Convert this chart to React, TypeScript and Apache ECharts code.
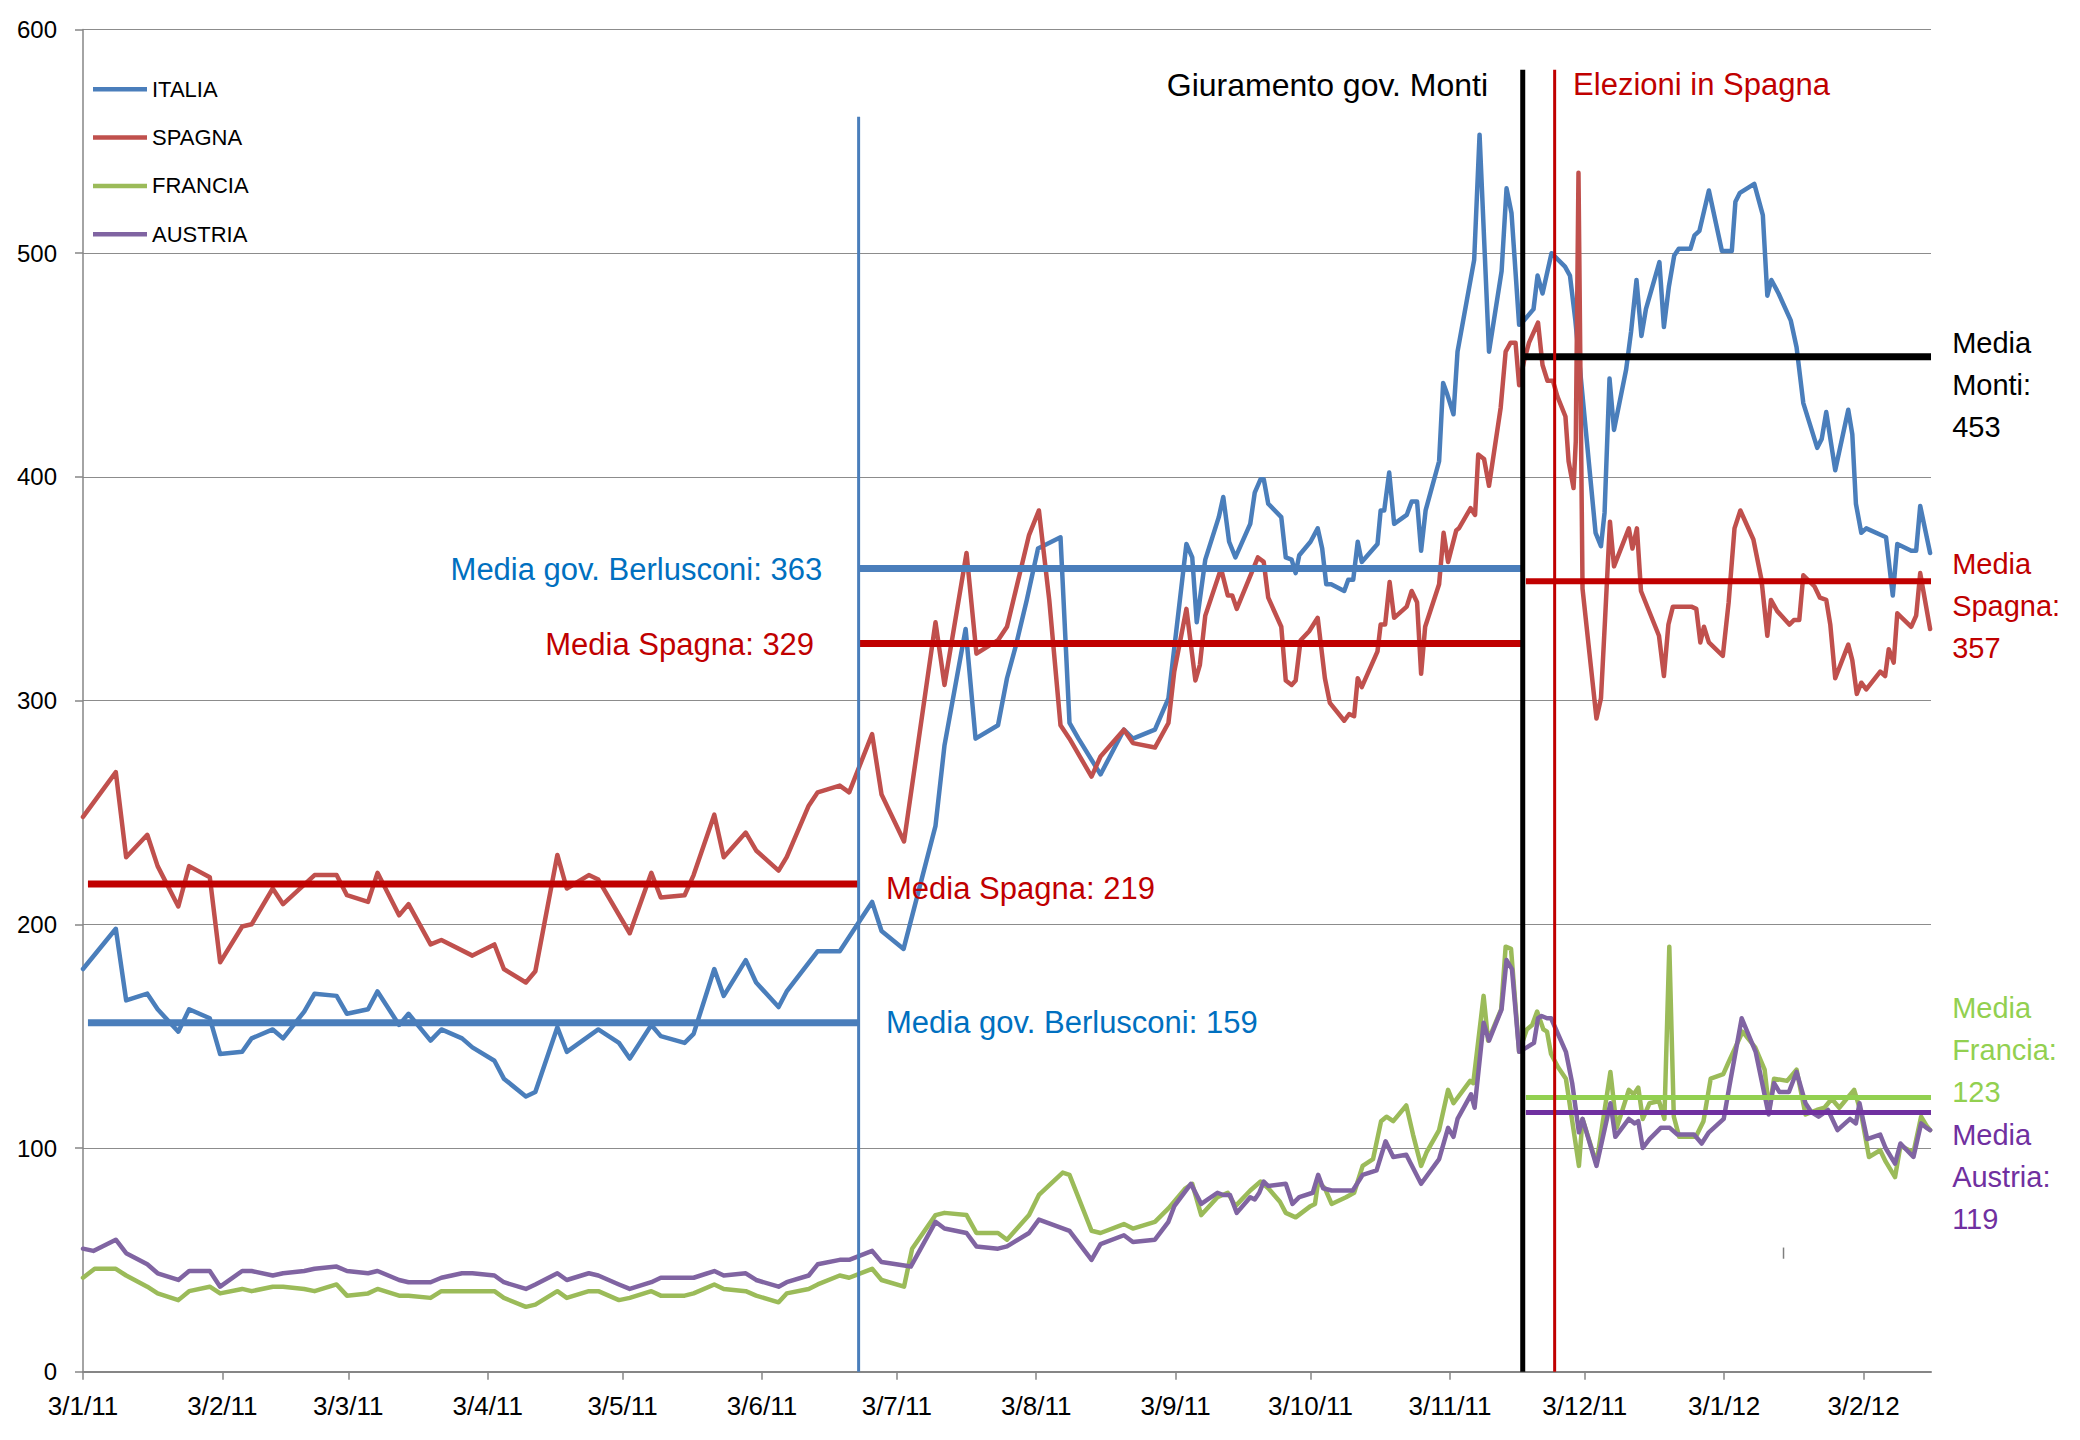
import React, { useEffect, useRef } from "react";
import * as echarts from "echarts";

const FONT = '"Liberation Sans", Arial, sans-serif';

// x = days since 3 Jan 2011
const monthTickDays = [0, 31, 59, 90, 120, 151, 181, 212, 243, 273, 304, 334, 365, 396];
const monthTickLabels = ["3/1/11", "3/2/11", "3/3/11", "3/4/11", "3/5/11", "3/6/11", "3/7/11", "3/8/11", "3/9/11", "3/10/11", "3/11/11", "3/12/11", "3/1/12", "3/2/12"];

const seriesNames = ["ITALIA", "SPAGNA", "FRANCIA", "AUSTRIA"];
const seriesColors = ["#4A7EBB", "#C0504D", "#9BBB59", "#8064A2"];

const italia = [
  [0, 180], [7.3, 198], [9.6, 166], [14.3, 169], [16.6, 162], [21.2, 152], [23.6, 162], [28.2, 158], [30.5, 142], [35.4, 143], [37.5, 149], [42.2, 153], [44.5, 149], [49.2, 161], [51.5, 169], [56.4, 168], [58.7, 160], [63.4, 162], [65.5, 170], [70.3, 155], [72.4, 160], [77.3, 148], [79.7, 153], [84.3, 149], [86.6, 145], [91.5, 139], [93.6, 131], [98.5, 123], [100.6, 125], [105.5, 154], [107.6, 143], [114.6, 153], [119.2, 147], [121.6, 140], [126.4, 155], [128.5, 150], [133.8, 147], [135.8, 151], [140.4, 180], [142.5, 168], [147.4, 184], [149.7, 174], [154.7, 163], [156.5, 170], [163.4, 188], [168.3, 188], [175.5, 210], [177.6, 197],
  [182.5, 189], [189.6, 244], [191.6, 280], [196.3, 332], [198.5, 283], [203.5, 289], [205.5, 310], [207.4, 324], [209.9, 345], [212.4, 368], [217.4, 373], [219.4, 290], [221.4, 283], [226.3, 267], [231.5, 287], [233.5, 283], [238.4, 287], [241.4, 301], [245.4, 370], [246.7, 364], [247.7, 335], [249.6, 363], [252.6, 382], [253.6, 391], [254.9, 371], [256.3, 364], [259.6, 379], [260.6, 393], [261.9, 399], [262.6, 399], [263.6, 388], [266.5, 382], [267.5, 364], [268.8, 363], [269.7, 357], [270.5, 365], [273, 371], [274.6, 377], [275.6, 368], [276.5, 352], [277.6, 352], [280.5, 349], [281.4, 354], [282.5, 354], [283.5, 371], [284.4, 362], [287.9, 370], [288.6, 385], [289.4, 385], [290.5, 402], [291.6, 379], [294.4, 383], [295.5, 389], [296.7, 389], [297.6, 367], [298.6, 385],
  [301.6, 407], [302.5, 442], [303.4, 437], [304.8, 428], [305.7, 456], [309.4, 497], [310.6, 553], [312.7, 456], [315.5, 492], [316.6, 529], [317.7, 518], [319.4, 468], [320.5, 470], [322.6, 475], [323.5, 490], [324.6, 482], [326.6, 500], [329.6, 494], [330.7, 490], [331.9, 470], [336.4, 375], [337.6, 369], [338.4, 384], [339.5, 444], [340.5, 421], [343.2, 448], [344.3, 465], [345.5, 488], [346.6, 463], [347.6, 475], [350.6, 496], [351.6, 467], [352.7, 485], [353.9, 499], [354.9, 502], [357.5, 502], [358.4, 508], [359.5, 510], [361.6, 528], [364.5, 501], [366.7, 501], [367.5, 523], [368.5, 527], [371.7, 531], [373.6, 517], [374.6, 481], [375.5, 488], [377.1, 482], [379.8, 470], [381.1, 458], [382.6, 433], [385.7, 413], [386.7, 417], [387.7, 429], [389.7, 403], [392.6, 430], [393.5, 419], [394.3, 388], [395.5, 375], [396.6, 377], [401, 373], [402.5, 347], [403.5, 370], [406.6, 367], [407.7, 367], [408.6, 387], [410.8, 366],
];

const spagna = [
  [0, 248], [7.3, 268], [9.6, 230], [14.3, 240], [16.6, 226], [21.2, 208], [23.6, 226], [28.2, 221], [30.5, 183], [35.4, 199], [37.5, 200], [42.2, 216], [44.5, 209], [51.5, 222], [56.4, 222], [58.7, 213], [63.4, 210], [65.5, 223], [70.3, 204], [72.4, 209], [77.3, 191], [79.7, 193], [86.6, 186], [91.5, 191], [93.6, 180], [98.5, 174], [100.6, 179], [105.5, 231], [107.6, 216], [112.5, 222], [114.6, 220], [121.6, 196], [126.4, 223], [128.5, 212], [133.8, 213], [135.8, 222], [140.4, 249], [142.5, 230], [147.4, 241], [149.7, 233], [154.7, 224], [156.5, 230], [161.4, 253], [163.4, 259], [168.3, 262], [170.4, 259], [175.5, 285], [177.6, 258],
  [182.6, 237], [189.6, 335], [191.6, 307], [196.5, 366], [198.7, 321], [203.5, 327], [205.5, 333], [210.4, 374], [212.6, 385], [214.9, 345], [217.4, 289], [219.4, 283], [224.3, 266], [226.3, 275], [231.5, 287], [233.5, 281], [238.4, 279], [241.4, 290], [242.7, 313], [245.4, 341], [247.4, 309], [248.4, 316], [249.6, 338], [253.1, 359], [254.6, 347], [255.6, 347], [256.6, 341], [261.3, 364], [262.6, 362], [263.6, 346], [266.5, 333], [267.5, 309], [268.8, 307], [269.7, 309], [270.8, 327], [272.7, 331], [274.6, 337], [276.2, 310], [277.3, 299], [280.5, 291], [281.6, 294], [282.7, 293], [283.5, 310], [284.4, 306], [287.9, 322], [288.6, 334], [289.6, 334], [290.6, 353], [291.6, 337], [294.4, 342], [295.5, 349], [296.7, 344], [297.6, 312], [298.5, 333],
  [301.6, 352], [302.6, 375], [303.6, 362], [305.4, 376], [306, 377], [308.6, 386], [309.6, 383], [310.3, 410], [311.6, 408], [312.7, 396], [315.3, 431], [316.4, 456], [317.5, 460], [318.6, 460], [319.4, 441], [320.5, 452], [321.6, 460], [323.6, 469], [324.6, 450], [325.7, 443], [326.9, 443], [327.9, 436], [329.7, 427], [330.4, 407], [331.5, 395], [332, 416], [332.6, 536], [333.5, 350], [336.6, 292], [337.6, 301], [338.5, 336], [339.6, 380], [340.5, 360], [343.8, 377], [344.6, 368], [345.6, 377], [346.5, 349], [350.5, 329], [351.6, 311], [352.6, 334], [353.6, 342], [357.7, 342], [358.8, 341], [359.7, 326], [360.5, 333], [361.6, 326], [364.7, 320], [366, 344], [367.3, 377], [368.6, 385], [371.5, 372], [373.3, 354], [374.6, 329], [375.4, 345], [376.8, 340], [379.5, 334], [380.5, 336], [381.7, 336], [382.6, 356], [385.1, 351], [386.3, 346], [387.7, 345], [388.6, 334], [389.7, 310], [392.6, 325], [393.5, 318], [394.5, 303], [395.5, 308], [396.6, 305], [399.7, 313], [400.8, 311], [401.6, 323], [402.7, 317], [403.5, 339], [406.6, 333], [407.7, 338], [408.6, 357], [410.8, 332],
];

const francia = [
  [0, 42], [2.6, 46], [7.3, 46], [9.6, 43], [14.3, 38], [16.6, 35], [21.2, 32], [23.6, 36], [28.2, 38], [30.5, 35], [35.4, 37], [37.5, 36], [42.2, 38], [44.5, 38], [49.2, 37], [51.5, 36], [56.4, 39], [58.7, 34], [63.4, 35], [65.5, 37], [70.3, 34], [72.4, 34], [77.3, 33], [79.7, 36], [84.3, 36], [91.5, 36], [93.6, 33], [98.5, 29], [100.6, 30], [105.5, 36], [107.6, 33], [112.5, 36], [114.6, 36], [119.2, 32], [121.6, 33], [126.4, 36], [128.5, 34], [133.8, 34], [135.8, 35], [140.4, 39], [142.5, 37], [147.4, 36], [149.7, 34], [154.7, 31], [156.5, 35], [161.4, 37], [163.4, 39], [168.3, 43], [170.4, 42], [175.5, 46], [177.6, 41],
  [182.6, 38], [184.4, 55], [189.6, 70], [191.6, 71], [196.5, 70], [198.7, 62], [203.5, 62], [205.5, 59], [210.4, 70], [212.6, 79], [217.9, 89], [219.4, 88], [224.3, 63], [226.3, 62], [231.5, 66], [233.5, 64], [238.4, 67], [241.4, 73], [245.2, 82], [246.7, 84], [248.7, 70], [252.3, 78], [254.6, 80], [256.3, 74], [259.6, 81], [261.9, 85], [263.6, 82], [266.2, 76], [267.5, 71], [269.7, 69], [273, 74], [274, 75], [274.7, 85], [276.2, 82], [277.7, 75], [280.9, 78], [282.7, 80], [284.6, 92], [286.9, 95], [288.7, 112], [289.9, 114], [291.4, 112], [294.3, 119], [295.8, 106], [297.6, 92], [298.8, 98],
  [301.6, 108], [303.6, 126], [304.8, 120], [308.5, 130], [309.2, 129], [311.5, 168], [312.5, 148], [315.4, 162], [316.4, 190], [317.6, 189], [319.4, 143], [321.1, 153], [322.3, 155], [323.4, 161], [324.8, 153], [325.6, 152], [326.5, 142], [328.1, 136], [329.8, 131], [332.7, 92], [333.5, 113], [336.6, 93], [339.7, 134], [341.1, 109], [343.8, 126], [344.9, 124], [345.9, 127], [346.9, 113], [348.4, 120], [350.5, 121], [351.7, 113], [352.8, 190], [353.8, 114], [355, 105], [358.7, 105], [360.4, 112], [362, 131], [364.8, 133], [365.9, 138], [369.1, 152], [371.9, 145], [374, 135], [375, 117], [376.1, 131], [379, 130], [381.1, 135], [383.1, 115], [385.6, 117], [387.3, 118], [388.9, 122], [390.6, 118], [393.9, 126], [395.4, 116], [397.2, 96], [399.7, 99], [400.9, 94], [403, 87], [404.2, 101], [407.1, 98], [408.8, 114], [410, 110], [410.8, 108],
];

const austria = [
  [0, 55], [2.3, 54], [7.3, 59], [9.6, 53], [14.3, 48], [16.6, 44], [21.2, 41], [23.6, 45], [28.2, 45], [30.5, 38], [35.4, 45], [37.5, 45], [42.2, 43], [44.5, 44], [49.2, 45], [51.5, 46], [56.4, 47], [58.7, 45], [63.4, 44], [65.5, 45], [70.3, 41], [72.4, 40], [77.3, 40], [79.7, 42], [84.3, 44], [86.6, 44], [91.5, 43], [93.6, 40], [98.5, 37], [100.6, 39], [105.5, 44], [107.6, 41], [112.5, 44], [114.6, 43], [119.2, 39], [121.6, 37], [126.4, 40], [128.5, 42], [135.8, 42], [140.4, 45], [142.5, 43], [147.4, 44], [149.7, 41], [154.7, 38], [156.5, 40], [161.4, 43], [163.4, 48], [168.3, 50], [170.4, 50], [175.5, 54], [177.6, 49],
  [184.1, 47], [189.6, 67], [191.6, 64], [196.5, 62], [198.7, 56], [203.5, 55], [205.5, 56], [210.4, 62], [212.6, 68], [219.4, 63], [224.3, 50], [226.3, 57], [231.5, 61], [233.5, 58], [238.4, 59], [241.4, 67], [242.7, 74], [246.4, 84], [248.7, 75], [252.3, 80], [253.6, 79], [255.1, 79], [256.6, 71], [259.6, 78], [260.6, 77], [261.6, 80], [262.6, 85], [263.6, 83], [267.5, 84], [269, 75], [270.5, 78], [273.5, 80], [274.7, 88], [275.8, 82], [277.7, 81], [282.4, 81], [284.6, 88], [287.7, 90], [289.7, 103], [291.4, 96], [294.3, 97], [297.6, 84],
  [301.6, 95], [303.6, 109], [304.8, 105], [305.7, 113], [308.7, 124], [309.5, 118], [311.5, 156], [312.7, 148], [315.5, 162], [316.6, 184], [317.8, 180], [319.4, 143], [321.1, 145], [322.7, 147], [323.6, 158], [324.4, 159], [325.6, 158], [326.5, 158], [329.8, 143], [331.2, 129], [332.7, 107], [333.5, 113], [336.6, 92], [339.7, 120], [340.8, 105], [343.8, 113], [345.1, 111], [345.9, 112], [346.9, 100], [348.4, 104], [350.9, 109], [352.9, 109], [354.6, 106], [358.3, 106], [360, 102], [361.6, 107], [364.9, 113], [366.2, 128], [368.9, 158], [372, 143], [374.9, 115], [376.1, 129], [377.3, 125], [379.4, 125], [381.1, 134], [383.1, 120], [384.4, 116], [386, 114], [388.1, 117], [390.2, 108], [393, 113], [394.3, 111], [395.1, 120], [396.8, 104], [399.7, 106], [400.9, 100], [403, 93], [404.2, 102], [407.1, 96], [408.8, 111], [410, 109], [410.8, 108],
];

// Mean lines: [startDay, endDay, value]
const meanItaliaBerlusconi1 = [1.1, 172.5, 156];
const meanSpagna1 = [1.1, 172.5, 218];
const meanItaliaBerlusconi2 = [172.5, 320.2, 359];
const meanSpagna2 = [172.5, 320.2, 325.5];
const meanMonti = [320.5, 411, 453.7];
const meanSpagna3 = [320.9, 411, 353.3];
const meanFrancia = [320.9, 411, 122.6];
const meanAustria = [320.9, 411, 115.9];

// Event lines: [day, topValue]
const lineBerlusconi = [172.5, 561];
const lineMonti = [320.2, 582];
const lineElezioni = [327.3, 582];

// Stray little mark in the original: [day, fromValue, toValue]
const strayMark = [378.2, 50.5, 55.5];

const annotations = [
  { text: "Media gov. Berlusconi: 363", day: 164.4, value: 358.4, color: "#0070C0", align: "right", size: 31 },
  { text: "Media Spagna: 329", day: 162.6, value: 324.9, color: "#C00000", align: "right", size: 31 },
  { text: "Media Spagna: 219", day: 178.6, value: 216.1, color: "#C00000", align: "left", size: 31 },
  { text: "Media gov. Berlusconi: 159", day: 178.6, value: 155.9, color: "#0070C0", align: "left", size: 31 },
  { text: "Giuramento gov. Monti", day: 312.5, value: 575.4, color: "#000000", align: "right", size: 32 },
  { text: "Elezioni in Spagna", day: 331.4, value: 575.2, color: "#C00000", align: "left", size: 31 },
  { text: "Media\nMonti:\n453", day: 415.7, value: 441.1, color: "#000000", align: "left", size: 29 },
  { text: "Media\nSpagna:\n357", day: 415.7, value: 342.3, color: "#C00000", align: "left", size: 29 },
  { text: "Media\nFrancia:\n123", day: 415.7, value: 143.8, color: "#92D050", align: "left", size: 29 },
  { text: "Media\nAustria:\n119", day: 415.7, value: 87.2, color: "#7030A0", align: "left", size: 29 },
];

function meanSeries(m: number[], color: string, width: number) {
  return {
    type: "line",
    data: [[m[0], m[2]], [m[1], m[2]]],
    showSymbol: false,
    silent: true,
    z: 5,
    lineStyle: { color, width, cap: "butt" },
  };
}

function vertSeries(v: number[], color: string, width: number) {
  return {
    type: "line",
    data: [[v[0], 0], [v[0], v[1]]],
    showSymbol: false,
    silent: true,
    z: 6,
    lineStyle: { color, width, cap: "butt" },
  };
}

export default function App() {
  const ref = useRef<HTMLDivElement>(null);
  useEffect(() => {
    if (!ref.current) return;
    const chart = echarts.init(ref.current, null, { renderer: "svg" });
    const data = [italia, spagna, francia, austria];
    const option: any = {
      animation: false,
      backgroundColor: "#ffffff",
      textStyle: { fontFamily: FONT },
      grid: { left: 83, top: 29.5, width: 1848, height: 1342.2, containLabel: false },
      legend: {
        data: seriesNames,
        orient: "vertical",
        left: 93,
        top: 78.3,
        padding: 0,
        itemGap: 26.3,
        itemWidth: 54,
        itemHeight: 4.5,
        icon: "rect",
        textStyle: { fontSize: 22, color: "#000", fontFamily: FONT, lineHeight: 22 },
      },
      xAxis: {
        type: "value",
        min: 0,
        max: 411,
        axisLine: { show: true, onZero: false, lineStyle: { color: "#868686", width: 2 } },
        axisTick: { show: true, customValues: monthTickDays, length: 8, lineStyle: { color: "#868686", width: 1.5 } },
        axisLabel: {
          customValues: monthTickDays,
          formatter: (v: number) => {
            const i = monthTickDays.indexOf(Math.round(v));
            return i >= 0 ? monthTickLabels[i] : "";
          },
          fontSize: 26,
          color: "#000",
          margin: 21,
          fontFamily: FONT,
        },
        splitLine: { show: false },
      },
      yAxis: {
        type: "value",
        min: 0,
        max: 600,
        interval: 100,
        axisLine: { show: true, lineStyle: { color: "#868686", width: 1.5 } },
        axisTick: { show: true, length: 8, lineStyle: { color: "#868686", width: 1.5 } },
        axisLabel: { fontSize: 24, color: "#000", margin: 26, fontFamily: FONT },
        splitLine: { show: true, lineStyle: { color: "#8C8C8C", width: 1.2 } },
      },
      series: [
        ...seriesNames.map((name, i) => ({
          name,
          type: "line",
          data: data[i],
          showSymbol: false,
          z: 3,
          lineStyle: { color: seriesColors[i], width: 4.5, join: "round", cap: "round" },
          itemStyle: { color: seriesColors[i] },
        })),
        meanSeries(meanItaliaBerlusconi1, "#4A7EBB", 7),
        meanSeries(meanSpagna1, "#C00000", 7),
        meanSeries(meanItaliaBerlusconi2, "#4A7EBB", 7),
        meanSeries(meanSpagna2, "#C00000", 7),
        meanSeries(meanMonti, "#000000", 7),
        meanSeries(meanSpagna3, "#C00000", 6),
        meanSeries(meanFrancia, "#92D050", 5),
        meanSeries(meanAustria, "#7030A0", 5),
        vertSeries(lineBerlusconi, "#4A7EBB", 3),
        vertSeries(lineMonti, "#000000", 5),
        vertSeries(lineElezioni, "#C00000", 3),
        {
          type: "line",
          data: [[strayMark[0], strayMark[1]], [strayMark[0], strayMark[2]]],
          showSymbol: false,
          silent: true,
          z: 4,
          lineStyle: { color: "#7F7F7F", width: 1.5 },
        },
      ],
    };
    chart.setOption(option);
    const graphic = annotations.map((a) => {
      const p = chart.convertToPixel({ gridIndex: 0 }, [a.day, a.value]) as number[];
      return {
        type: "text",
        x: p[0],
        y: p[1],
        silent: true,
        z: 10,
        style: {
          text: a.text,
          fill: a.color,
          fontSize: a.size,
          fontFamily: FONT,
          align: a.align,
          verticalAlign: "middle",
          lineHeight: 42,
        },
      };
    });
    chart.setOption({ graphic });
    return () => chart.dispose();
  }, []);
  return (
    <div
      ref={ref}
      style={{ position: "fixed", left: 0, top: 0, width: 2080, height: 1440, background: "#fff" }}
    />
  );
}
